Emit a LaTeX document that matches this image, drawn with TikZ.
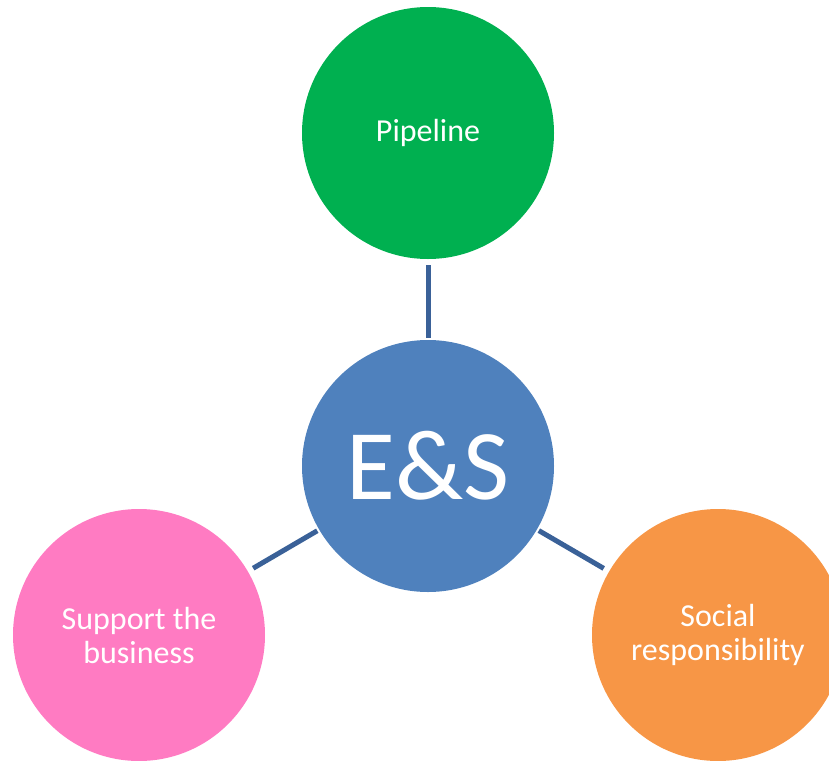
\documentclass[tikz,border=0pt]{standalone}
\usepackage{fontspec}
\setmainfont{Carlito}
\definecolor{kreisgruen}{HTML}{00B050}
\definecolor{kreisblau}{HTML}{4F81BD}
\definecolor{kreisrosa}{HTML}{FF7BC2}
\definecolor{kreisorange}{HTML}{F79646}
\definecolor{linienblau}{HTML}{3A6198}
\tikzset{
  kreis/.style={circle, minimum size=189pt, inner sep=0pt, text=white, align=center,
    font=\fontsize{24}{25.5}\selectfont},
  verbindung/.style={line width=3.75pt, linienblau, shorten <=4.5pt, shorten >=1.5pt}
}
\begin{document}
\begin{tikzpicture}[x=0.75pt, y=-0.75pt]
  \useasboundingbox (0,0) rectangle (829,761);

  % Kreise
  \node[kreis, fill=kreisblau, font=\fontsize{75}{80}\selectfont] (es) at (428,466) {E\&S};
  \node[kreis, fill=kreisgruen] (pipeline) at (428,133) {Pipeline};
  \node[kreis, fill=kreisrosa] (support) at (139,635) {Support the\\business};
  \node[kreis, fill=kreisorange] (social) at (718,635) {Social\\responsibility};

  % Verbindungen
  \draw[verbindung] (pipeline) -- (es);
  \draw[verbindung] (support) -- (es);
  \draw[verbindung] (social) -- (es);
\end{tikzpicture}
\end{document}
